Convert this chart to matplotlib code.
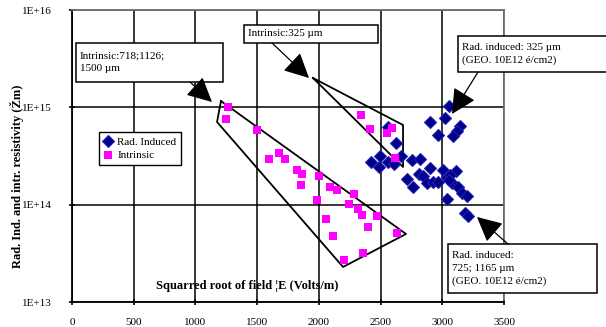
#!/usr/bin/env python3

import matplotlib
matplotlib.use("Agg")
import matplotlib.pyplot as plt
from matplotlib.patches import Rectangle

# Intrinsic resistivity (magenta squares)
intr_x = [1264, 1248, 1499, 1596, 1677, 1726, 1823, 1863, 1855, 2001,
          2090, 2147, 1985, 2285, 2244, 2317, 2058, 2115, 2204, 2341,
          2414, 2593, 2552, 2617, 2350, 2471, 2398, 2633, 2358]
intr_y = [1.01e15, 7.6e14, 5.85e14, 2.94e14, 3.4e14, 2.94e14, 2.27e14, 2.07e14, 1.59e14, 1.97e14,
          1.52e14, 1.42e14, 1.12e14, 1.29e14, 1.02e14, 9.0e13, 7.1e13, 4.8e13, 2.7e13, 8.3e14,
          6.0e14, 6.1e14, 5.45e14, 3.0e14, 7.8e13, 7.6e13, 5.9e13, 5.1e13, 3.2e13]

# Radiation induced resistivity (dark blue diamonds)
rad_x = [3054, 3022, 2901, 2965, 3144, 3119, 3087, 2560, 2625, 2423,
         2495, 2487, 2560, 2609, 2666, 2755, 2819, 2901, 2714, 2763,
         2811, 2844, 2876, 2925, 2965, 3006, 3038, 3111, 3063, 3079,
         3127, 3160, 3200, 3038, 3184, 3208, 3054]
rad_y = [1.03e15, 7.8e14, 7.1e14, 5.2e14, 6.4e14, 5.7e14, 5.1e14, 6.3e14, 4.3e14, 2.74e14,
         3.16e14, 2.44e14, 2.74e14, 2.62e14, 3.16e14, 2.88e14, 2.94e14, 2.38e14, 1.84e14, 1.52e14,
         2.07e14, 1.97e14, 1.67e14, 1.71e14, 1.71e14, 2.27e14, 1.92e14, 2.22e14, 2.02e14, 1.67e14,
         1.52e14, 1.32e14, 1.23e14, 1.14e14, 8.2e13, 7.6e13, 1.79e14]

# Hand-drawn outlines around the intrinsic groups
big_poly_x = [1207, 1175, 2196, 2706, 1207]
big_poly_y = [1.16e15, 7.07e14, 2.29e13, 5.0e13, 1.16e15]
small_poly_x = [1953, 2682, 2682, 1953]
small_poly_y = [2.0e15, 6.58e14, 2.44e14, 2.0e15]

x_ticks = [0, 500, 1000, 1500, 2000, 2500, 3000, 3500]
y_ticks = [1e13, 1e14, 1e15, 1e16]
y_tick_labels = ["1E+13", "1E+14", "1E+15", "1E+16"]

plt.rcParams['font.family'] = ['Liberation Serif', 'DejaVu Serif']

fig = plt.figure(figsize=(6.06, 3.27), dpi=100)
L, R, T, B = 72, 504, 10, 302
ax = fig.add_axes([L / 606, 1 - B / 327, (R - L) / 606, (B - T) / 327])


def px(x, y):
    # pixel position in the picture -> axes fraction
    return (x - L) / (R - L), (B - y) / (B - T)


ax.set_yscale('log')
ax.set_xlim(0, 3500)
ax.set_ylim(1e13, 1e16)
ax.set_xticks(x_ticks)
ax.set_yticks(y_ticks)
ax.set_yticklabels(y_tick_labels)
ax.minorticks_off()
ax.tick_params(axis='both', direction='inout', length=5, width=1.2, labelsize=8, color='black')
ax.tick_params(axis='x', pad=9)
ax.tick_params(axis='y', pad=12)
ax.grid(True, color='black', lw=1.1)
for s in ['left', 'bottom']:
    ax.spines[s].set_color('black')
    ax.spines[s].set_linewidth(1.3)
for s in ['top', 'right']:
    ax.spines[s].set_color('#707070')
    ax.spines[s].set_linewidth(1.3)

ax.plot(big_poly_x, big_poly_y, color='black', lw=1.3, zorder=3)
ax.plot(small_poly_x, small_poly_y, color='black', lw=1.3, zorder=3)

ax.plot(rad_x, rad_y, linestyle='none', marker='D', ms=6, mfc='#00008B',
        mec='#2020B0', mew=0.8, label='Rad. Induced', zorder=4)
ax.plot(intr_x, intr_y, linestyle='none', marker='s', ms=5.8, mfc='#FF00FF',
        mec='#FF00FF', mew=0, label='Intrinsic', zorder=4)

leg = ax.legend(loc='upper left', bbox_to_anchor=px(99, 132), fontsize=8,
                fancybox=False, edgecolor='black', framealpha=1, borderpad=0.45,
                handlelength=0.8, handletextpad=0.4, labelspacing=0.35, borderaxespad=0)
leg.get_frame().set_linewidth(1.0)

ax.set_ylabel("Rad. Ind. and intr. resistivity (Žm)", fontsize=9, fontweight='bold', labelpad=6)
ax.yaxis.set_label_coords(px(24, 0)[0], px(0, 176)[1])
ax.text(*px(247, 286), "Squarred root of field ¦E (Volts/m)", transform=ax.transAxes,
        ha='center', va='center', fontsize=9, fontweight='bold', zorder=5)

# annotation boxes: (left, top, right, bottom) in pixels, text lines
boxes = [
    ((76, 43, 223, 82), "Intrinsic:718;1126;\n1500 µm"),
    ((244, 25, 378, 43), "Intrinsic:325 µm"),
    ((458, 36, 620, 72), "Rad. induced: 325 µm\n(GEO. 10E12 é/cm2)"),
    ((448, 244, 597, 293), "Rad. induced:\n725; 1165 µm\n(GEO. 10E12 é/cm2)"),
]
for (x0, y0, x1, y1), txt in boxes:
    ax0, ay1 = px(x0, y1)
    ax1, ay0 = px(x1, y0)
    ax.add_patch(Rectangle((ax0, ay1), ax1 - ax0, ay0 - ay1, transform=ax.transAxes,
                           facecolor='white', edgecolor='black', lw=1.1, clip_on=False, zorder=6))
    ax.text(*px(x0 + 4, (y0 + y1) / 2), txt, transform=ax.transAxes, ha='left', va='center',
            fontsize=8, linespacing=1.45, zorder=7, clip_on=False)

# arrows: start (pixel), tip (pixel)
arrows = [((190, 82), (212, 102)), ((272, 43), (309, 78)),
          ((478, 72), (452, 114)), ((508, 244), (477, 217))]
for start, tip in arrows:
    ax.annotate("", xy=px(*tip), xytext=px(*start), xycoords='axes fraction',
                textcoords='axes fraction',
                arrowprops=dict(arrowstyle='-|>,head_length=1.1,head_width=0.55', color='black',
                                lw=0.9, shrinkA=0, shrinkB=0, mutation_scale=14),
                annotation_clip=False, zorder=8)

fig.savefig("out.png", dpi=100)
